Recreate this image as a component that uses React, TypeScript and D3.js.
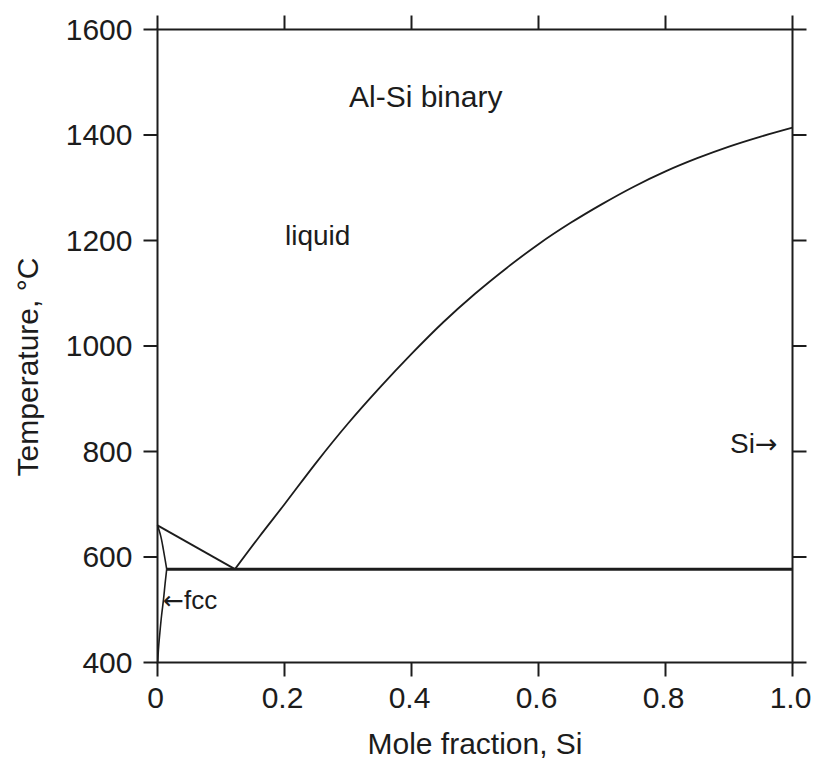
import React from "react";
import * as d3 from "d3";

// ---- data ----
const xTicks = [0, 0.2, 0.4, 0.6, 0.8, 1.0];
const xTickLabels = ["0", "0.2", "0.4", "0.6", "0.8", "1.0"];
const yTicks = [400, 600, 800, 1000, 1200, 1400, 1600];
const yTickLabels = ["400", "600", "800", "1000", "1200", "1400", "1600"];

// Al-side liquidus (Al melting point to eutectic)
const alLiquidusX = [0, 0.122];
const alLiquidusT = [660, 577];
// Si-side liquidus (eutectic to Si melting point)
const siLiquidusX = [0.122, 0.16, 0.2, 0.25, 0.3, 0.35, 0.4, 0.45, 0.5, 0.55, 0.6, 0.65, 0.7, 0.75, 0.8, 0.85, 0.9, 0.95, 1.0];
const siLiquidusT = [577, 638, 700, 779, 853, 921, 985, 1045, 1099, 1148, 1193, 1233, 1269, 1302, 1331, 1356, 1378, 1397, 1414];
// fcc solidus
const solidusT = [660, 640, 613, 595, 577];
const solidusX = [0, 0.005, 0.0094, 0.012, 0.0145];
// fcc solvus
const solvusT = [577, 550, 520, 490, 460, 430, 400];
const solvusX = [0.0145, 0.012, 0.0095, 0.0065, 0.004, 0.0018, 0.0003];
// eutectic isotherm
const eutecticX = [0.0145, 1.0];
const eutecticT = [577, 577];

const W = 819;
const H = 763;
const left = 157.5, right = 792.5, top = 29.5, bottom = 662.5;
const ink = "#1c1c1c";
const font = "'Liberation Sans', Arial, Helvetica, sans-serif";
const arrowFont = "'DejaVu Sans', sans-serif";

export default function App() {
  const x = d3.scaleLinear().domain([0, 1]).range([left, right]);
  const y = d3.scaleLinear().domain([400, 1600]).range([bottom, top]);

  const toPts = (xs: number[], ts: number[]) => xs.map((v, i) => [v, ts[i]] as [number, number]);
  const lineX = d3.line<[number, number]>().x(d => x(d[0])).y(d => y(d[1]));
  const lineSmooth = d3.line<[number, number]>().x(d => x(d[0])).y(d => y(d[1])).curve(d3.curveMonotoneX);
  const lineMonoY = d3.line<[number, number]>().x(d => x(d[0])).y(d => y(d[1])).curve(d3.curveMonotoneY);

  const tickLen = 14;

  return (
    <svg width={W} height={H} style={{ position: "absolute", left: 0, top: 0, background: "#fff" }}>
      {/* frame */}
      <rect x={left} y={top} width={right - left} height={bottom - top} fill="none" stroke={ink} strokeWidth={2} />
      {/* x ticks bottom & top */}
      {xTicks.map((t, i) => (
        <g key={"xt" + i}>
          <line x1={x(t)} x2={x(t)} y1={bottom} y2={bottom + tickLen} stroke={ink} strokeWidth={2} />
          <line x1={x(t)} x2={x(t)} y1={top} y2={top - tickLen} stroke={ink} strokeWidth={2} />
          <text x={x(t) - 2} y={bottom + 45.5} textAnchor="middle" fontFamily={font} fontSize={30} fill={ink}>
            {xTickLabels[i]}
          </text>
        </g>
      ))}
      {/* y ticks left & right */}
      {yTicks.map((t, i) => (
        <g key={"yt" + i}>
          <line x1={left} x2={left - tickLen} y1={y(t)} y2={y(t)} stroke={ink} strokeWidth={2} />
          <line x1={right} x2={right + tickLen} y1={y(t)} y2={y(t)} stroke={ink} strokeWidth={2} />
          <text x={left - 25} y={y(t)} dy="0.34em" textAnchor="end" fontFamily={font} fontSize={30} fill={ink}>
            {yTickLabels[i]}
          </text>
        </g>
      ))}

      {/* phase boundaries */}
      <path d={lineX(toPts(alLiquidusX, alLiquidusT)) || ""} fill="none" stroke={ink} strokeWidth={1.8} />
      <path d={lineSmooth(toPts(siLiquidusX, siLiquidusT)) || ""} fill="none" stroke={ink} strokeWidth={1.8} />
      <path d={lineMonoY(toPts(solidusX, solidusT)) || ""} fill="none" stroke={ink} strokeWidth={1.6} />
      <path d={lineMonoY(toPts(solvusX, solvusT)) || ""} fill="none" stroke={ink} strokeWidth={1.6} />
      <path d={lineX(toPts(eutecticX, eutecticT)) || ""} fill="none" stroke={ink} strokeWidth={3} />

      {/* labels */}
      <text x={349} y={107} fontFamily={font} fontSize={30} fill={ink}>Al-Si binary</text>
      <text x={285} y={245} fontFamily={font} fontSize={28} fill={ink}>liquid</text>
      <text x={730} y={453} fontFamily={font} fontSize={28} fill={ink}>
        Si<tspan fontFamily={arrowFont} fontSize={27}>→</tspan>
      </text>
      <text x={163} y={609} fontFamily={font} fontSize={26} fill={ink}>
        <tspan fontFamily={arrowFont} fontSize={25}>←</tspan>fcc
      </text>

      <text x={475} y={754} textAnchor="middle" fontFamily={font} fontSize={30} fill={ink}>Mole fraction, Si</text>
      <text transform={`translate(38,367) rotate(-90)`} textAnchor="middle" fontFamily={font} fontSize={30} fill={ink}>
        Temperature, °C
      </text>
    </svg>
  );
}
